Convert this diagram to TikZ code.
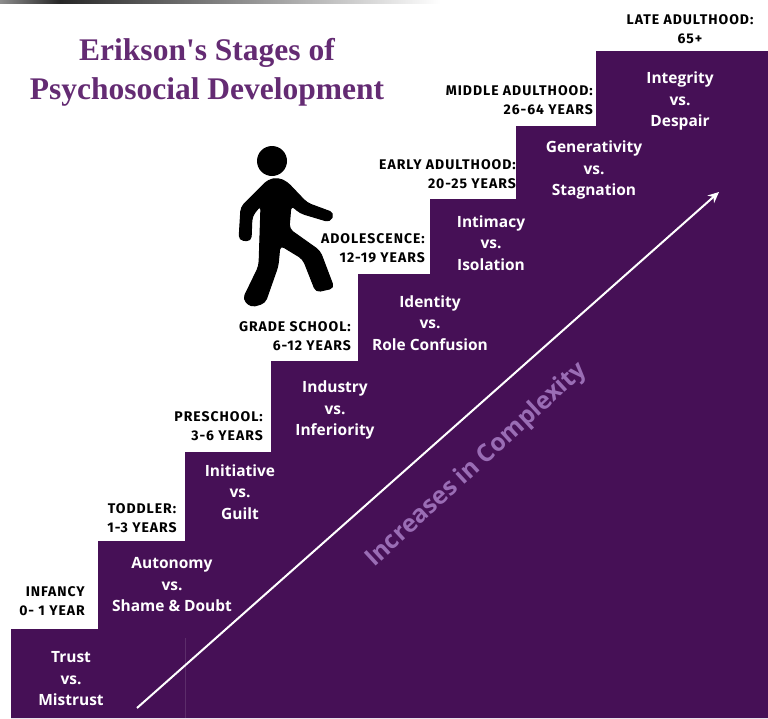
\documentclass[tikz,border=0pt]{standalone}
\usepackage{fontspec}
\setmainfont{Open Sans}
\newfontfamily\labelfont[LetterSpace=7]{Fira Sans}
\newfontfamily\titlefont{Liberation Serif}
\definecolor{stairpurple}{HTML}{461056}
\definecolor{titlepurple}{HTML}{642B73}
\definecolor{complexpurple}{HTML}{9A6DB5}
\usetikzlibrary{arrows.meta}
\begin{document}
\begin{tikzpicture}
[x=1pt,y=-1pt,
stage/.style={text=white,align=center,font=\fontsize{15.5}{21.5}\selectfont\bfseries},
age/.style={text=black,align=right,anchor=east,inner sep=0pt,font=\labelfont\fontsize{14}{19.5}\selectfont\bfseries},
agemid/.style={age,align=center,anchor=center},
title/.style={text=titlepurple,align=center,font=\titlefont\fontsize{31.5}{39}\selectfont\bfseries},
walker/.style={fill=black,draw=black,line width=1pt,line join=round,rounded corners=4.5pt}]
\useasboundingbox (0,0) rectangle (768,718);
\shade[left color=black!45,right color=black!85] (0,0) rectangle (60,3);
\shade[left color=black!85,right color=white] (60,0) rectangle (440,3);
\fill[stairpurple] (11,718) -- (11,629) -- (98,629) -- (98,541) -- (185,541) -- (185,452) -- (271,452) -- (271,361) -- (358,361) -- (358,274) -- (430,274) -- (430,199) -- (516,199) -- (516,126) -- (596,126) -- (596,51) -- (768,51) -- (768,718) -- cycle;
\draw[white!12!stairpurple,line width=0.5pt] (185,638) -- (185,718);
\node[title] (title) at (207,72) {Erikson's Stages of\\Psychosocial Development};
\node[stage] (trust) at (71,679) {Trust\\vs.\\Mistrust};
\node[stage] (autonomy) at (172,585) {Autonomy\\vs.\\Shame \& Doubt};
\node[stage] (initiative) at (240,492) {Initiative\\vs.\\Guilt};
\node[stage] (industry) at (335,410) {Industry\\vs.\\Inferiority};
\node[stage] (identity) at (430,323) {Identity\\vs.\\Role Confusion};
\node[stage] (intimacy) at (491,243) {Intimacy\\vs.\\Isolation};
\node[stage] (generativity) at (594,170) {Generativity\\vs.\\Stagnation};
\node[stage] (integrity) at (680,101) {Integrity\\vs.\\Despair};
\node[age] (infancy) at (85,601) {INFANCY\\0- 1 YEAR};
\node[agemid] (toddler) at (142,518) {TODDLER:\\1-3 YEARS};
\node[age] (preschool) at (263,426) {PRESCHOOL:\\3-6 YEARS};
\node[age] (gradeschool) at (351,336) {GRADE SCHOOL:\\6-12 YEARS};
\node[age] (adolescence) at (425,248) {ADOLESCENCE:\\12-19 YEARS};
\node[age] (early) at (516,174) {EARLY ADULTHOOD:\\20-25 YEARS};
\node[age] (middle) at (593,100) {MIDDLE ADULTHOOD:\\26-64 YEARS};
\node[agemid] (late) at (690,29) {LATE ADULTHOOD:\\65+};
\coordinate (arrowstart) at (137,708);
\coordinate (arrowend) at (719,192);
\draw[white,line width=2pt,-{Stealth[length=11pt,width=10pt]}] (arrowstart) -- (arrowend);
\node[text=complexpurple,rotate=42.6,font=\fontsize{24.5}{25}\selectfont\bfseries] (complexity) at (476.5,465) {Increases in Complexity};
\fill (272,161) circle (15);
\path[walker] (268,180) -- (241,207) -- (239,240) -- (251,241) -- (252,216) -- (261,205) -- (259,266) -- (243,299) -- (251,307) -- (265,303) -- (278,266) -- (280,245) -- (303,259) -- (316,292) -- (334,288) -- (320,251) -- (289,229) -- (291,205) -- (300,213) -- (330,222) -- (334,213) -- (307,203) -- (287,182) -- (278,178) -- cycle;
\end{tikzpicture}
\end{document}
